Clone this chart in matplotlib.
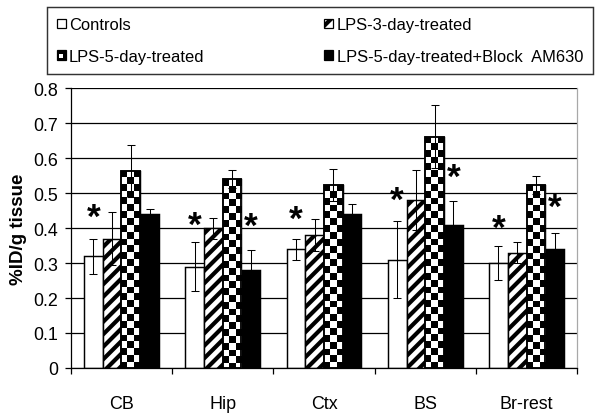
import numpy as np
import matplotlib
matplotlib.use("Agg")
import matplotlib.pyplot as plt
from matplotlib.patches import Patch, Rectangle
from matplotlib.legend_handler import HandlerPatch
from matplotlib.transforms import offset_copy

plt.rcParams['font.family'] = ['Liberation Sans', 'DejaVu Sans']
plt.rcParams['hatch.linewidth'] = 2.0

categories = ['CB', 'Hip', 'Ctx', 'BS', 'Br-rest']
series = ['Controls', 'LPS-3-day-treated', 'LPS-5-day-treated',
          'LPS-5-day-treated+Block  AM630']
controls = [0.32, 0.29, 0.34, 0.31, 0.30]
lps3 = [0.37, 0.40, 0.38, 0.48, 0.33]
lps5 = [0.563, 0.54, 0.523, 0.661, 0.523]
block = [0.441, 0.28, 0.441, 0.41, 0.34]
controls_err = [0.05, 0.07, 0.03, 0.11, 0.048]
lps3_err = [0.077, 0.03, 0.046, 0.085, 0.03]
lps5_err = [0.075, 0.027, 0.045, 0.09, 0.025]
block_err = [0.014, 0.057, 0.028, 0.068, 0.047]
# significance marks: (category, series, height)
stars = [(0, 0, 0.462), (1, 0, 0.44), (1, 3, 0.435), (2, 0, 0.457),
         (3, 0, 0.51), (3, 3, 0.577), (4, 0, 0.43), (4, 3, 0.49)]
yticks = [0, 0.1, 0.2, 0.3, 0.4, 0.5, 0.6, 0.7, 0.8]
ytick_labels = ['0', '0.1', '0.2', '0.3', '0.4', '0.5', '0.6', '0.7', '0.8']

values = [controls, lps3, lps5, block]
errors = [controls_err, lps3_err, lps5_err, block_err]

fig = plt.figure(figsize=(4.0, 2.76), dpi=150)
ax = fig.add_axes([0.118, 0.1087, 0.844, 0.6763])

x = np.arange(len(categories))
w = 0.185
all_bars = []
for i, (vals, errs) in enumerate(zip(values, errors)):
    pos = x + (i - 1.5) * w
    if i == 0:
        bars = ax.bar(pos, vals, w, color='white', edgecolor='black', lw=0.7, zorder=2)
    elif i == 1:
        bars = ax.bar(pos, vals, w, color='white', edgecolor='black', lw=0.7,
                      hatch='////', zorder=2)
    elif i == 2:
        bars = ax.bar(pos, vals, w, color='white', edgecolor='black', lw=0.7, zorder=2)
        for b in bars:
            sq = 0.0195
            rows = int(np.ceil(b.get_height() / sq))
            board = (np.indices((rows, 3)).sum(0) % 2).astype(float)
            top = b.get_y() + b.get_height()
            im = ax.imshow(board, cmap='gray', interpolation='nearest', aspect='auto',
                           extent=(b.get_x(), b.get_x() + b.get_width(),
                                   top - rows * sq, top), zorder=2.1)
            im.set_clip_path(b)
        ax.bar(pos, vals, w, fill=False, edgecolor='black', lw=0.9, zorder=2.2)
    else:
        bars = ax.bar(pos, vals, w, color='black', edgecolor='black', lw=0.7, zorder=2)
    all_bars.append(bars)
    ax.errorbar(pos, vals, yerr=errs, fmt='none', ecolor='black', elinewidth=0.5,
                capsize=2, capthick=0.5, zorder=4)

star_size = 17
# '*' ink sits high above the baseline; shift so its centre lands on the value
star_trans = offset_copy(ax.transData, fig, y=-0.58 * star_size, units='points')
for cat, s, yv in stars:
    b = all_bars[s][cat]
    ax.text(b.get_x() + b.get_width() / 2, yv, '*', ha='center', va='baseline',
            fontsize=star_size, fontweight='bold', zorder=5, transform=star_trans)

ax.set_xlim(-0.5, len(categories) - 0.5)
ax.set_ylim(0, 0.8)
ax.set_yticks(yticks)
ax.set_yticklabels(ytick_labels)
ax.yaxis.grid(True, color='black', lw=0.6, zorder=0)
ax.set_axisbelow(True)
ax.set_xticks(x)
ax.set_xticklabels(categories)
ax.set_xticks(np.arange(len(categories) + 1) - 0.5, minor=True)
ax.tick_params(axis='x', which='major', length=0, pad=13, labelsize=8.6)
ax.tick_params(axis='x', which='minor', length=3, width=0.6, direction='out')
ax.tick_params(axis='y', length=3, width=0.6, direction='out', pad=3, labelsize=8.6)
ax.spines['top'].set_visible(False)
ax.spines['right'].set_color('#a8a8a8')
ax.spines['right'].set_linewidth(0.6)
ax.spines['left'].set_linewidth(0.6)
ax.spines['bottom'].set_linewidth(0.6)
ax.set_ylabel('%ID/g tissue', fontsize=9, fontweight='bold', labelpad=3)


class CheckerHandler(HandlerPatch):
    def create_artists(self, legend, orig_handle, xdescent, ydescent, width,
                       height, fontsize, trans):
        outer = Rectangle((-xdescent, -ydescent), width, height, facecolor='black',
                          edgecolor='black', lw=0.6, transform=trans)
        inner = Rectangle((-xdescent + width * 0.3, -ydescent + height * 0.15),
                          width * 0.45, height * 0.45, facecolor='white',
                          edgecolor='none', transform=trans)
        return [outer, inner]


h_ctrl = Patch(facecolor='white', edgecolor='black', lw=0.6)
h_lps3 = Patch(facecolor='white', edgecolor='black', lw=0.6, hatch='//')
h_lps5 = Patch(facecolor='black', edgecolor='black')
h_block = Patch(facecolor='black', edgecolor='black', lw=0.6)
leg = fig.legend([h_ctrl, h_lps5, h_lps3, h_block],
                 [series[0], series[2], series[1], series[3]],
                 handler_map={h_lps5: CheckerHandler()},
                 loc='center', bbox_to_anchor=(0.078, 0.8116, 0.91, 0.176),
                 mode='expand', ncol=2, fontsize=7.9, frameon=True, fancybox=False,
                 edgecolor='black', handlelength=0.55, handleheight=0.55,
                 handletextpad=0.2, labelspacing=1.0, borderpad=0.6,
                 borderaxespad=0)
leg.get_frame().set_linewidth(0.7)

fig.savefig('out.png', dpi=150)
